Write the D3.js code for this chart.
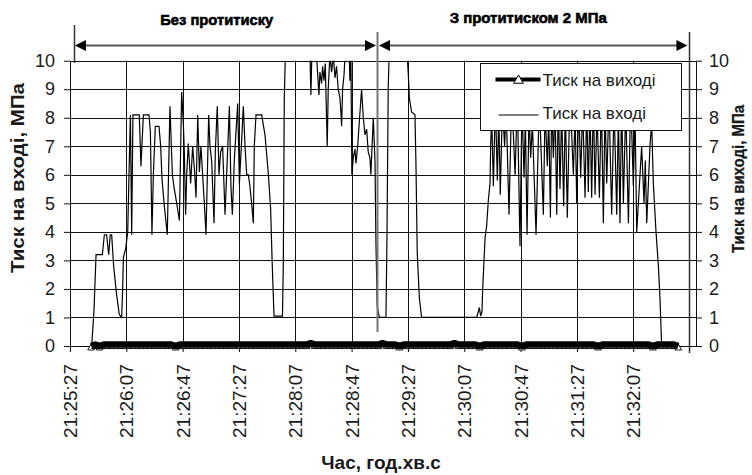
<!DOCTYPE html>
<html>
<head>
<meta charset="utf-8">
<script src="https://cdn.jsdelivr.net/npm/d3@7"></script>
<style>
  html, body { margin: 0; padding: 0; background: #fff; }
  svg { display: block; font-family: "Liberation Sans", Arial, sans-serif; }
</style>
</head>
<body>
<svg id="chart" width="752" height="475"></svg>
<script>
// Time axis: seconds after 21:25:27
const tickSeconds = [0, 40, 80, 120, 160, 200, 240, 280, 320, 360, 400];
const tickLabels = ["21:25:27", "21:26:07", "21:26:47", "21:27:27", "21:28:07", "21:28:47",
                    "21:29:27", "21:30:07", "21:30:47", "21:31:27", "21:32:07"];
const timeSpan = 444.6;
const pressureTicks = [0, 1, 2, 3, 4, 5, 6, 7, 8, 9, 10];

const seriesNames = ["Тиск на виході", "Тиск на вході"];
const stageLabels = ["Без протитиску", "З протитиском 2 МПа"];
const stageBounds = [2.8, 218.4, 439.6];   // seconds

// Inlet pressure, MPa (time in seconds, value)
const inletSeconds = [
  15.4, 17.0, 18.5, 23.0, 24.4, 26.0, 27.5, 28.6, 29.6, 31.0,
  33.1, 35.0, 36.7, 37.4, 37.9, 39.5, 41.0, 41.9, 42.9, 43.8,
  44.7, 49.2, 50.4, 52.1, 56.1, 57.1, 58.2, 59.2, 60.6, 63.2,
  64.4, 65.3, 66.8, 69.1, 70.1, 71.0, 72.7, 74.1, 75.8, 77.7,
  79.3, 80.5, 81.2, 82.1, 82.9, 84.0, 85.7, 87.1, 88.5, 89.5,
  90.7, 91.9, 93.0, 94.2, 95.4, 96.6, 98.5, 99.4, 100.6, 102.3,
  103.2, 104.6, 105.8, 107.0, 108.4, 110.1, 113.2, 114.3, 115.3, 116.7,
  119.1, 120.3, 121.7, 123.1, 124.3, 125.5, 126.7, 127.8, 129.0, 130.2,
  130.9, 132.1, 136.1, 138.5, 140.9, 142.5, 143.6, 144.9, 150.9, 151.5,
  152.2, 153.1, 165.7, 170.4, 171.1, 171.8, 175.1, 176.8, 177.5, 178.7,
  179.4, 180.4, 181.3, 182.2, 182.7, 183.4, 184.6, 185.8, 187.0, 188.2,
  189.3, 190.5, 191.7, 192.4, 192.9, 193.6, 194.6, 195.5, 198.3, 198.8,
  199.5, 200.2, 201.2, 202.4, 203.1, 204.3, 205.4, 207.1, 208.3, 209.5,
  210.7, 211.8, 213.0, 213.7, 214.7, 215.4, 216.6, 217.3, 218.2, 219.7,
  224.4, 225.1, 226.0, 226.8, 239.1, 240.2, 241.0, 242.6, 245.0, 245.7,
  246.6, 248.1, 249.7, 288.8, 290.0, 290.7, 291.7, 292.6, 293.1, 294.8,
  295.9, 297.1, 298.3, 298.8, 299.5, 300.7, 302.1, 303.5, 304.5, 305.6,
  307.1, 308.7, 309.7, 311.8, 313.7, 316.1, 317.7, 319.6, 321.0, 322.5,
  323.4, 324.6, 326.0, 327.2, 328.4, 331.0, 333.3, 336.2, 337.4, 339.0,
  340.0, 341.2, 342.1, 343.3, 344.5, 345.7, 346.8, 348.0, 349.2, 350.6,
  351.8, 353.2, 355.1, 357.5, 358.7, 359.9, 361.3, 362.7, 364.1, 365.8,
  367.0, 368.1, 369.3, 370.5, 371.7, 372.9, 374.3, 376.0, 377.4, 378.8,
  380.0, 381.2, 382.8, 384.7, 386.4, 388.3, 389.5, 390.6, 391.8, 393.0,
  394.7, 396.6, 398.2, 400.1, 401.3, 402.5, 406.0, 407.7, 408.6, 409.6,
  412.0, 413.1, 414.3, 416.2, 417.9, 419.0, 420.2, 433.0
];
const inletPressure = [
  0, 1.2, 3.2, 3.2, 3.9, 3.9, 3.2, 3.9, 3.9, 2.8,
  1.8, 1.1, 1.0, 2.0, 3.1, 3.4, 4.0, 6.0, 8.1, 3.9,
  8.1, 8.1, 6.3, 8.1, 8.1, 7.5, 3.9, 6.0, 7.7, 7.7,
  7.0, 5.9, 5.0, 3.9, 6.3, 8.4, 6.0, 5.5, 5.0, 4.4,
  8.9, 7.8, 6.8, 4.6, 6.0, 7.1, 5.7, 7.0, 6.1, 5.2,
  8.1, 6.1, 7.0, 6.0, 5.0, 3.9, 8.1, 7.0, 6.5, 4.3,
  6.8, 8.4, 6.0, 6.8, 7.0, 4.6, 8.4, 5.6, 4.6, 6.5,
  8.5, 5.7, 7.0, 8.4, 7.0, 6.0, 6.0, 5.6, 5.0, 4.3,
  7.0, 8.1, 8.1, 7.4, 6.0, 4.8, 2.9, 1.05, 1.05, 2.9,
  8.7, 10.5, 11.0, 10.3, 8.8, 10.3, 10.2, 8.8, 9.6, 9.2,
  9.8, 9.3, 9.9, 8.0, 7.0, 9.0, 10.2, 9.6, 10.2, 9.4,
  9.8, 9.0, 8.7, 8.2, 7.7, 9.0, 9.5, 10.3, 10.2, 9.3,
  10.2, 6.0, 6.6, 6.9, 6.4, 7.0, 7.8, 9.0, 8.0, 7.4,
  7.6, 6.8, 6.6, 6.0, 7.2, 8.0, 6.5, 3.6, 1.4, 1.0,
  1.0, 3.7, 9.0, 10.5, 10.5, 9.6, 8.7, 8.2, 8.1, 6.4,
  3.3, 1.7, 1.0, 1.0, 1.2, 1.35, 1.05, 1.2, 2.0, 3.8,
  4.2, 5.1, 5.7, 7.1, 8.0, 5.6, 8.6, 5.8, 8.2, 5.3,
  8.4, 7.0, 8.5, 4.6, 8.8, 6.0, 8.7, 3.5, 8.5, 5.9,
  8.0, 3.9, 8.2, 6.6, 7.8, 3.9, 8.6, 4.6, 8.3, 6.3,
  8.1, 4.5, 8.6, 6.6, 8.4, 4.6, 8.7, 5.5, 8.3, 4.9,
  8.5, 4.5, 8.9, 6.0, 8.2, 5.0, 8.6, 5.9, 8.4, 5.2,
  8.6, 5.4, 8.5, 5.2, 8.8, 5.3, 8.3, 5.2, 8.7, 4.3,
  8.4, 5.7, 8.6, 4.6, 8.5, 4.6, 8.2, 4.3, 8.7, 5.0,
  8.4, 4.3, 8.8, 5.6, 8.2, 4.0, 7.0, 5.0, 6.5, 4.3,
  7.1, 7.8, 5.7, 4.0, 2.8, 1.7, 0, 0
];

// Outlet pressure, MPa, sampled every 3 s from 15 s
const outletStart = 15;
const outletStep = 3;
const outletPressure = [
  0, 0.05, 0, 0.05, 0.05, 0.05, 0.05, 0.05, 0.05, 0.05,
  0.05, 0.05, 0.05, 0.05, 0.05, 0.05, 0.05, 0.05, 0.05, 0.05,
  0, 0.05, 0.05, 0.05, 0.05, 0.05, 0.05, 0.05,
  0.05, 0.05, 0.05, 0.05, 0.05, 0.05, 0.05, 0.05, 0.05, 0.05,
  0.05, 0.05, 0.05, 0.05, 0.05, 0.05, 0.05, 0.05, 0.05, 0.05,
  0.05, 0.05, 0.05, 0.05, 0.1, 0.05, 0.05, 0.05, 0.05, 0.05,
  0.05, 0.05, 0.05, 0.05, 0.05, 0.05, 0.05, 0.05, 0.05, 0.05,
  0.05, 0.1, 0.05, 0.05, 0.05, 0, 0.05, 0.05, 0.05, 0.05,
  0.05, 0.05, 0.05, 0.05, 0.05, 0.05, 0.05, 0.05, 0.1, 0.05,
  0.05, 0.05, 0.05, 0.05, 0, 0.05, 0.05, 0.05,
  0.05, 0.05, 0.05, 0.05, 0.05, 0.05, 0, 0.05, 0.05, 0.05,
  0.05, 0.05, 0.05, 0.05, 0.05, 0.05, 0.05, 0.05, 0.05, 0.05,
  0.05, 0.05, 0.05, 0.05, 0, 0.05, 0.05, 0.05, 0.05, 0.05,
  0.05, 0.05, 0.05, 0.05, 0.05, 0.05, 0.05, 0, 0.05, 0.05,
  0.05, 0.05, 0.05, 0
];
const outletSeconds = outletPressure.map((_, i) => outletStart + i * outletStep);

const FONT = '"Liberation Sans", Arial, sans-serif';
const INK = "#1a1a1a";

const svg = d3.select("#chart");

const x = d3.scaleLinear().domain([0, timeSpan]).range([70, 696]);
const y = d3.scaleLinear().domain([0, 10]).range([346, 60.7]);
const crisp = v => Math.round(v) + 0.5;

// Grid
const grid = svg.append("g").attr("stroke", "#111").attr("stroke-width", 1);
grid.selectAll("line.h").data(pressureTicks).join("line")
  .attr("class", "h")
  .attr("x1", x(0)).attr("x2", x(timeSpan))
  .attr("y1", d => crisp(y(d))).attr("y2", d => crisp(y(d)));
grid.selectAll("line.v").data(tickSeconds.slice(1)).join("line")
  .attr("class", "v")
  .attr("x1", d => crisp(x(d))).attr("x2", d => crisp(x(d)))
  .attr("y1", y(10)).attr("y2", y(0));

// Axes
function styleAxis(g, size) {
  g.selectAll("line, path").attr("stroke", "#111").attr("stroke-width", 1);
  g.selectAll("text").attr("font-size", size).attr("font-family", FONT).attr("fill", INK);
}
const leftAxis = svg.append("g")
  .attr("transform", `translate(${Math.round(x(0))},0)`)
  .call(d3.axisLeft(y).tickValues(pressureTicks).tickSize(6).tickSizeOuter(0).tickPadding(9));
styleAxis(leftAxis, 18);

const rightAxis = svg.append("g")
  .attr("transform", `translate(${Math.round(x(timeSpan))},0)`)
  .call(d3.axisRight(y).tickValues(pressureTicks).tickSize(6).tickSizeOuter(0).tickPadding(7));
styleAxis(rightAxis, 18);

const bottomAxis = svg.append("g")
  .attr("transform", `translate(0,${Math.round(y(0))})`)
  .call(d3.axisBottom(x).tickValues(tickSeconds).tickFormat((d, i) => tickLabels[i]).tickSize(6));
bottomAxis.select(".domain").remove();
styleAxis(bottomAxis, 19);
bottomAxis.selectAll("text")
  .attr("transform", "rotate(-90)")
  .attr("text-anchor", "end")
  .attr("x", -18).attr("y", 0).attr("dy", "0.35em");

// Clip for the data
svg.append("clipPath").attr("id", "plotClip")
  .append("rect").attr("x", x(0)).attr("y", y(10)).attr("width", x(timeSpan) - x(0)).attr("height", y(0) - y(10) + 12);

// Inlet pressure (thin line)
const inletLine = d3.line().x((d, i) => x(inletSeconds[i])).y(d => y(d));
svg.append("path").datum(inletPressure)
  .attr("clip-path", "url(#plotClip)")
  .attr("d", inletLine)
  .attr("fill", "none").attr("stroke", "#000").attr("stroke-width", 1.2)
  .attr("stroke-linejoin", "miter");

// Outlet pressure: triangle markers under a heavy line
const tri = d3.symbol().type(d3.symbolTriangle).size(20);
svg.append("g").selectAll("path").data(outletPressure).join("path")
  .attr("transform", (d, i) => `translate(${x(outletSeconds[i])},${y(d) + 2})`)
  .attr("d", tri)
  .attr("fill", "#fff").attr("stroke", "#000").attr("stroke-width", 0.9);
const outletLine = d3.line().x((d, i) => x(outletSeconds[i])).y(d => y(d));
svg.append("path").datum(outletPressure)
  .attr("d", outletLine)
  .attr("fill", "none").attr("stroke", "#000").attr("stroke-width", 6.5)
  .attr("stroke-linejoin", "round");

// Legend
const lg = svg.append("g").attr("transform", "translate(480.5,63.5)");
lg.append("rect").attr("width", 201).attr("height", 67)
  .attr("fill", "#fff").attr("stroke", "#111").attr("stroke-width", 1);
lg.append("line").attr("x1", 15).attr("x2", 60).attr("y1", 16).attr("y2", 16)
  .attr("stroke", "#000").attr("stroke-width", 4);
lg.append("path").attr("transform", "translate(38,17)")
  .attr("d", d3.symbol().type(d3.symbolTriangle).size(40))
  .attr("fill", "#fff").attr("stroke", "#000").attr("stroke-width", 1);
lg.append("line").attr("x1", 18).attr("x2", 58).attr("y1", 51.5).attr("y2", 51.5)
  .attr("stroke", "#000").attr("stroke-width", 1);
lg.selectAll("text").data(seriesNames).join("text")
  .attr("x", 62).attr("y", (d, i) => 22 + i * 33)
  .attr("font-size", 17).attr("font-family", FONT).attr("fill", INK)
  .text(d => d);

// Stage annotation: boundaries and double arrows
const ann = svg.append("g");
const arrowY = 45.5;
ann.append("line").attr("x1", crisp(x(stageBounds[0]))).attr("x2", crisp(x(stageBounds[0])))
  .attr("y1", 25).attr("y2", 63).attr("stroke", "#333").attr("stroke-width", 1.5);
ann.append("line").attr("x1", x(stageBounds[1])).attr("x2", x(stageBounds[1]))
  .attr("y1", 32).attr("y2", 332).attr("stroke", "#777").attr("stroke-width", 2);
ann.append("line").attr("x1", crisp(x(stageBounds[2]))).attr("x2", crisp(x(stageBounds[2])))
  .attr("y1", 32).attr("y2", 353).attr("stroke", "#333").attr("stroke-width", 1.5);

function arrowHead(tipX, dir) {
  const L = 11, h = 5.5;
  return `M${tipX},${arrowY} L${tipX + dir * L},${arrowY - h} L${tipX + dir * L},${arrowY + h} Z`;
}
const spans = [[stageBounds[0], stageBounds[1]], [stageBounds[1], stageBounds[2]]];
spans.forEach(([a, b], i) => {
  const xa = x(a) + (i === 0 ? 1 : 1.5), xb = x(b) - 1.5;
  ann.append("line").attr("x1", xa + 6).attr("x2", xb - 6).attr("y1", arrowY).attr("y2", arrowY)
    .attr("stroke", "#555").attr("stroke-width", 2);
  ann.append("path").attr("d", arrowHead(xa, 1)).attr("fill", "#000");
  ann.append("path").attr("d", arrowHead(xb, -1)).attr("fill", "#000");
});
const stageTextWidth = [113, 157];
ann.selectAll("text.stage").data(stageLabels).join("text")
  .attr("class", "stage")
  .attr("x", (d, i) => (x(spans[i][0]) + x(spans[i][1])) / 2 + (i === 0 ? -9 : -5))
  .attr("y", (d, i) => i === 0 ? 25 : 23)
  .attr("text-anchor", "middle")
  .attr("font-size", 15).attr("font-weight", "bold").attr("font-family", FONT).attr("fill", "#000")
  .attr("stroke", "#000").attr("stroke-width", 0.6)
  .attr("textLength", (d, i) => stageTextWidth[i]).attr("lengthAdjust", "spacingAndGlyphs")
  .text(d => d);

// Axis titles
svg.append("text")
  .attr("transform", "translate(24,178) rotate(-90)")
  .attr("text-anchor", "middle")
  .attr("font-size", 18).attr("font-weight", "bold").attr("font-family", FONT).attr("fill", INK)
  .attr("textLength", 190).attr("lengthAdjust", "spacingAndGlyphs")
  .text("Тиск на вході, МПа");
svg.append("text")
  .attr("transform", "translate(744,179) rotate(-90)")
  .attr("text-anchor", "middle")
  .attr("font-size", 16).attr("font-weight", "bold").attr("font-family", FONT).attr("fill", INK)
  .attr("stroke", INK).attr("stroke-width", 0.3)
  .attr("textLength", 148).attr("lengthAdjust", "spacingAndGlyphs")
  .text("Тиск на виході, МПа");
svg.append("text")
  .attr("x", 381).attr("y", 469)
  .attr("text-anchor", "middle")
  .attr("font-size", 19).attr("font-weight", "bold").attr("font-family", FONT).attr("fill", INK)
  .text("Час, год.хв.с");
</script>
</body>
</html>
